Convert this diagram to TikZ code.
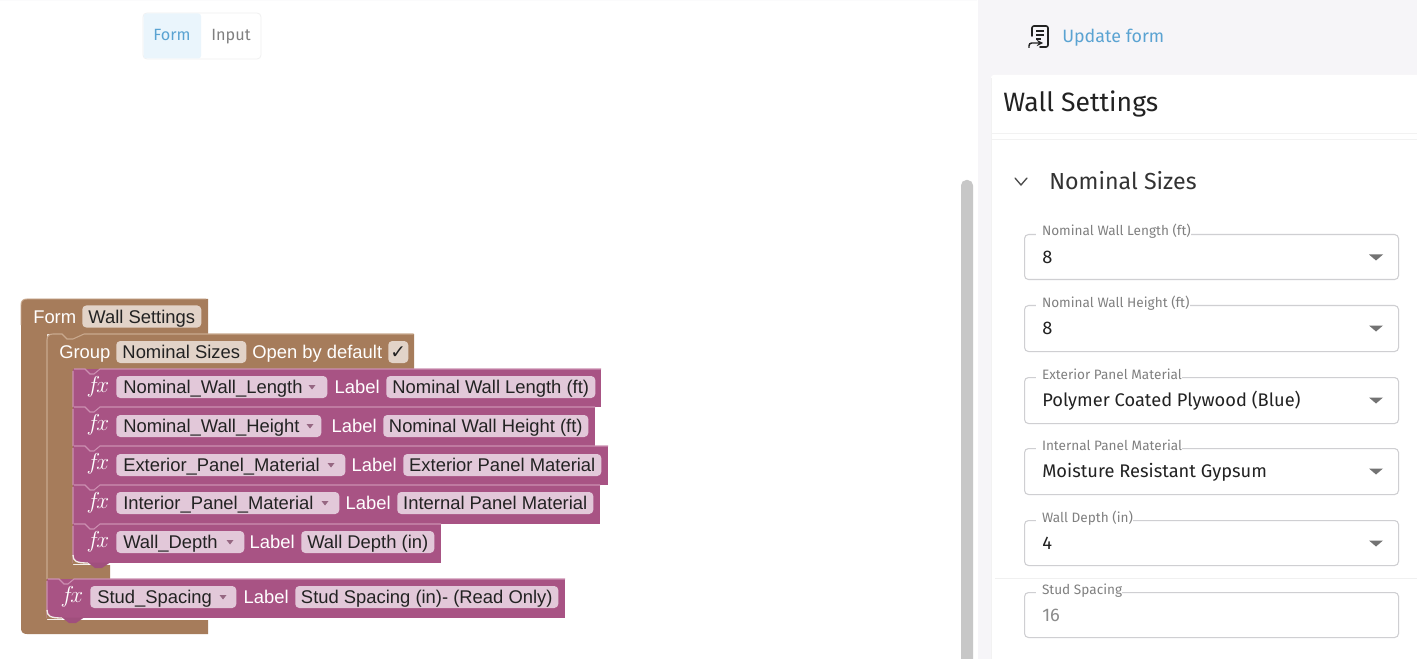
\documentclass[tikz,border=0pt]{standalone}
\usepackage{fontspec}
\setmainfont{Liberation Sans}
\newfontfamily\uif{Fira Sans}
\definecolor{brownblk}{HTML}{A67C5B}
\definecolor{brownlt}{HTML}{C9A98E}
\definecolor{brownpill}{HTML}{E2D3C8}
\definecolor{magblk}{HTML}{A85384}
\definecolor{maglt}{HTML}{CC8FB2}
\definecolor{magpill}{HTML}{E2C8D9}
\definecolor{txtd}{HTML}{222222}
\definecolor{panelbg}{HTML}{F6F5F8}
\definecolor{fieldln}{HTML}{CFCFD2}
\definecolor{lablc}{HTML}{808080}
\definecolor{linkc}{HTML}{5AA3D2}
\definecolor{togbg}{HTML}{EAF5FC}
\newcommand{\blockfont}{\fontsize{13.8}{16}\selectfont}
\tikzset{
 x=0.75pt,y=-0.75pt,
 pillbase/.style={rounded corners=3pt,inner sep=0pt,anchor=west,minimum height=16.5pt,text height=10pt,text depth=0pt,font=\blockfont,text=txtd},
 pillb/.style={pillbase,fill=brownpill},
 pillm/.style={pillbase,fill=magpill},
 wlabel/.style={anchor=west,inner sep=0pt,text height=10pt,text depth=0pt,font=\blockfont,text=white},
 fxlabel/.style={inner sep=0pt,font=\fontsize{18}{18}\selectfont,text=white},
 fieldbox/.style={draw=fieldln,line width=0.8pt,rounded corners=3pt,fill=white,minimum width=280.5pt,inner sep=0pt,anchor=north west},
 fieldlab/.style={anchor=west,inner sep=0pt,fill=white,font=\uif\fontsize{10.2}{11}\selectfont,text=lablc,outer sep=0pt,text height=8pt,text depth=2pt},
 fieldval/.style={anchor=base west,inner sep=0pt,font=\uif\fontsize{13.7}{15}\selectfont,text=txtd},
}
% #1 name, #2 left x, #3 y top, #4 right x, #5 height
\newcommand{\magrow}[5]{%
 \path[fill=magblk] (#2,#3) rectangle (#4,#3+#5);
 \draw[maglt,line width=0.8pt] (#2,#3+#5) -- (#2,#3+2) (#2+1,#3) -- (#2+12,#3) -- (#2+17,#3+5) -- (#2+21,#3+5) -- (#2+27,#3) -- (#4,#3);
 \node[fxlabel] (#1fx) at (#2+25,#3+18) {$f\mkern-3mu x$};
}
% closing corner and tab under the last block of a stack: #1 left x, #2 bottom y
\newcommand{\magtail}[2]{%
 \path[fill=brownblk] (#1-0.5,#2-8) .. controls (#1,#2-2) and (#1+3,#2) .. (#1+15,#2) -- (#1+15,#2+1) -- (#1-0.5,#2+1) -- cycle;
 \draw[white!85!brownblk,line width=1pt] (#1,#2-8) .. controls (#1,#2-2) and (#1+3,#2) .. (#1+15,#2);
 \path[fill=magblk!95!black] (#1+15,#2-0.5) -- (#1+37,#2-0.5) -- (#1+29,#2+5) -- (#1+22,#2+5) -- cycle;
}
% #1 name, #2 x, #3 right x, #4 y, #5 text, #6 arrow x
\newcommand{\ddpill}[6]{%
 \node[pillm,minimum width={(#3-#2)*0.75pt},text width={(#3-#2-14)*0.75pt},align=left] (#1) at (#2,#4) {#5};
 \path[fill=magblk!55!gray] (#6-3.5,#4-2) -- (#6+3.5,#4-2) -- (#6,#4+2.5) -- cycle;
}
% #1 name, #2 pill x left, #3 right, #4 y, #5 text
\newcommand{\labpill}[5]{%
 \node[wlabel,anchor=east] (#1lab) at (#2-6,#4) {Label};
 \node[pillm,minimum width={(#3-#2)*0.75pt},align=center] (#1) at (#2,#4) {#5};
}
% #1 name, #2 y top, #3 height, #4 label, #5 value, #6 colour
\newcommand{\field}[6]{%
 \node[fieldbox,minimum height={#3*0.75pt}] (#1) at (1024,#2) {};
 \node[fieldlab] (#1lab) at (1036,#2-2) {\hspace{4.5pt}#4\hspace{4.5pt}};
 \node[fieldval,text=#6] (#1val) at (1042,#2+29.2) {#5};
}
\newcommand{\fieldarrow}[1]{\path[fill=black!55] (1369,#1-2.5) -- (1383,#1-2.5) -- (1376,#1+3.5) -- cycle;}
\begin{document}
\begin{tikzpicture}
\useasboundingbox (0,0) rectangle (1417,659);
\path[fill=white] (0,0) rectangle (1417,659);
% toggle
\path[fill=panelbg!40!white] (0,0) rectangle (977,1);
\node[draw=black!6,line width=0.6pt,fill=white,rounded corners=3pt,minimum width=88.5pt,minimum height=34.5pt,inner sep=0pt] (tog) at (202,36) {};
\path[fill=togbg,rounded corners=2pt] (143.5,13.5) rectangle (201,58.5);
\node[inner sep=0pt,text height=9pt,text depth=2pt,font=\uif\fontsize{12.2}{14}\selectfont,text=linkc] (tform) at (172,36) {Form};
\node[inner sep=0pt,text height=9pt,text depth=2pt,font=\uif\fontsize{12.2}{14}\selectfont,text=black!50] (tinput) at (231,36) {Input};
% right panel
\path[fill=panelbg] (978,0) rectangle (1417,659);
\path[fill=black!22,rounded corners=4pt] (961,180) rectangle (973,670);
\path[fill=white,rounded corners=2pt] (991,75) rectangle (1425,670);
\draw[black!5,line width=0.6pt] (991,133) -- (1417,133) (991,139) -- (1417,139) (991,78) -- (991,659);
\draw[black!6,line width=0.6pt] (995,578) -- (1417,578);
% update form icon
\draw[txtd,line width=1.2pt,rounded corners=1.5pt,line cap=round] (1032,36) -- (1032,26) -- (1048,26) -- (1048,47) -- (1040,47);
\draw[txtd,line width=1.1pt] (1036,31) -- (1044,31) (1036,35) -- (1044,35) (1036,39) -- (1041,39);
\draw[txtd,line width=1.1pt,rounded corners=2pt,-stealth] (1029,48) -- (1029,43) -- (1043,43);
\node[anchor=base west,inner sep=0pt,font=\uif\fontsize{13.4}{16}\selectfont,text=linkc] (upd) at (1062,43) {Update form};
\node[anchor=base west,inner sep=0pt,font=\uif\fontsize{19.9}{23}\selectfont,text=txtd] (wst) at (1003,112) {Wall Settings};
\draw[black!70,line width=1pt,line cap=round] (1015,178) -- (1021,185) -- (1027,178);
\node[anchor=base west,inner sep=0pt,font=\uif\fontsize{17.4}{20}\selectfont,text=black!80] (nsz) at (1049,190) {Nominal Sizes};
\field{f1}{234}{45}{Nominal Wall Length (ft)}{8}{txtd}\fieldarrow{257}
\field{f2}{305}{46}{Nominal Wall Height (ft)}{8}{txtd}\fieldarrow{328}
\field{f3}{377}{46}{Exterior Panel Material}{Polymer Coated Plywood (Blue)}{txtd}\fieldarrow{400}
\field{f4}{448}{46}{Internal Panel Material}{Moisture Resistant Gypsum}{txtd}\fieldarrow{471}
\field{f5}{520}{45}{Wall Depth (in)}{4}{txtd}\fieldarrow{543}
\field{f6}{592}{45}{Stud Spacing}{16}{black!45}
% Form block
\path[fill=brownblk] (21,305) .. controls (21,301) and (23,299) .. (27,299) -- (208,299) -- (208,334) -- (47,334) -- (47,620) -- (208,620) -- (208,634) -- (27,634) .. controls (23,634) and (21,632) .. (21,628) -- cycle;
\draw[brownlt,line width=0.7pt] (21,325) -- (21,305) .. controls (21,301) and (23,299) .. (27,299) -- (206,299);
\node[wlabel] (lform) at (33,316.5) {Form};
\node[pillb,minimum width=89.25pt] (pform) at (82,316.5) {Wall Settings};
% Group block
\path[fill=brownblk] (47,340) .. controls (47,336) and (49,334) .. (53,334) -- (414,334) -- (414,369) -- (73,369) -- (73,565) -- (110,565) -- (110,579) -- (47,579) -- cycle;
\draw[brownlt,line width=0.8pt] (47,579) -- (47,340) .. controls (47,336) and (49,334) .. (53,334) -- (62,334) -- (67,339) -- (73,339) -- (84,334) -- (413.5,334);
\node[wlabel] (lgroup) at (59,352) {Group};
\node[pillb,minimum width=97.5pt] (pgroup) at (116,352) {Nominal Sizes};
\node[wlabel] (lopen) at (252,352) {Open by default};
\node[pillb,minimum width=15pt,font=\fontsize{14}{14}\fontspec{DejaVu Sans}] (pcheck) at (388,352) {✓};
% Magenta rows
\magrow{ra}{73}{369}{601}{38}
\ddpill{ra}{116}{327}{387}{Nominal\_Wall\_Length}{312}
\labpill{rb}{386}{595}{387}{Nominal Wall Length (ft)}
\magrow{rc}{73}{407}{595}{39}
\ddpill{rc}{116}{321}{426}{Nominal\_Wall\_Height}{310}
\labpill{rd}{383}{588}{426}{Nominal Wall Height (ft)}
\magrow{re}{73}{446}{608}{39}
\ddpill{re}{116}{345}{465}{Exterior\_Panel\_Material}{331}
\labpill{rf}{403}{601}{465}{Exterior Panel Material}
\magrow{rg}{73}{485}{600}{39}
\ddpill{rg}{116}{339}{503}{Interior\_Panel\_Material}{325}
\labpill{rh}{397}{593}{503}{Internal Panel Material}
\magrow{ri}{73}{524}{441}{39}
\magtail{73}{563}
\ddpill{ri}{116}{244}{542}{Wall\_Depth}{230}
\labpill{rj}{301}{434}{542}{Wall Depth (in)}
\magrow{rk}{47}{579}{565}{39}
\magtail{47}{618}
\ddpill{rk}{90}{236}{597}{Stud\_Spacing}{223}
\labpill{rl}{295}{558}{597}{Stud Spacing (in)- (Read Only)}
\end{tikzpicture}
\end{document}
